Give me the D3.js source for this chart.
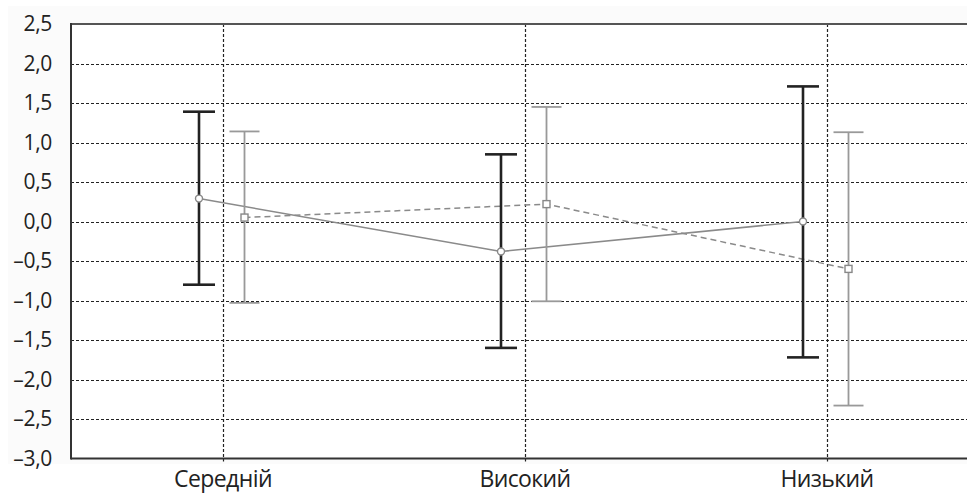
<!DOCTYPE html>
<html><head><meta charset="utf-8">
<script src="https://cdn.jsdelivr.net/npm/d3@7"></script>
<style>html,body{margin:0;padding:0;background:#fff;}svg{display:block;}</style>
</head><body>
<script>
const categories = ["Середній", "Високий", "Низький"];
const s1Mean = [0.29, -0.38, 0.0];
const s1Low = [-0.80, -1.60, -1.72];
const s1High = [1.39, 0.85, 1.71];
const s2Mean = [0.05, 0.22, -0.60];
const s2Low = [-1.03, -1.01, -2.33];
const s2High = [1.14, 1.45, 1.13];
const yTicks = [2.5, 2.0, 1.5, 1.0, 0.5, 0.0, -0.5, -1.0, -1.5, -2.0, -2.5, -3.0];

const W = 967, H = 494;
const L = 71, T = 24, B = 458.5, R = 967;
const svg = d3.select("body").append("svg").attr("width", W).attr("height", H);
svg.append("rect").attr("x",0).attr("y",0).attr("width",W).attr("height",H).attr("fill","#fff");
svg.append("rect").attr("x",8).attr("y",6).attr("width",W-8).attr("height",458).attr("fill","#fbfbfb");
svg.append("rect").attr("x",L).attr("y",T).attr("width",R-L).attr("height",B-T).attr("fill","#fff");

const y = d3.scaleLinear().domain([-3, 2.5]).range([B, T]);
const x = d3.scaleBand().domain(categories).range([72, 978]).paddingInner(0).paddingOuter(0);
const cx = c => x(c) + x.bandwidth()/2;
const off1 = -24, off2 = 21.5;

const fmt = v => (v < 0 ? "\u2013" : "") + Math.abs(v).toFixed(1).replace(".", ",");

// horizontal grid
const g = svg.append("g");
g.selectAll("line.h").data(yTicks.filter(v => v > -3 && v < 2.5)).enter().append("line")
  .attr("x1", L).attr("x2", R).attr("y1", d => Math.round(y(d))+0.5).attr("y2", d => Math.round(y(d))+0.5)
  .attr("stroke", "#222").attr("stroke-width", 1.2).attr("stroke-dasharray", "3,2");
// vertical grid
g.selectAll("line.v").data(categories).enter().append("line")
  .attr("x1", d => Math.round(cx(d))+0.5).attr("x2", d => Math.round(cx(d))+0.5)
  .attr("y1", T).attr("y2", B+3)
  .attr("stroke", "#222").attr("stroke-width", 1.2).attr("stroke-dasharray", "3,2");

// axis frame
svg.append("line").attr("x1", L).attr("x2", R).attr("y1", T).attr("y2", T).attr("stroke", "#555").attr("stroke-width", 2);
svg.append("line").attr("x1", L).attr("x2", R).attr("y1", B).attr("y2", B).attr("stroke", "#333").attr("stroke-width", 2);
svg.append("line").attr("x1", L).attr("x2", L).attr("y1", T-1).attr("y2", B+1).attr("stroke", "#333").attr("stroke-width", 2);

// y axis labels
const yAxis = d3.axisLeft(y).tickValues(yTicks).tickFormat(fmt).tickSize(0).tickPadding(19);
const ya = svg.append("g").attr("transform", `translate(${L},0)`).call(yAxis);
ya.select(".domain").remove();
ya.selectAll("text").attr("font-family", "'Open Sans', sans-serif").attr("font-size", 21).attr("fill", "#222")
  .attr("letter-spacing", -0.3);

// x axis labels
const xAxis = d3.axisBottom(x).tickSize(0).tickPadding(12);
const xa = svg.append("g").attr("transform", `translate(0,${B})`).call(xAxis);
xa.select(".domain").remove();
xa.selectAll("text").attr("font-family", "'Open Sans', sans-serif").attr("font-size", 23).attr("fill", "#222")
  .attr("letter-spacing", -0.6);

// lines
const line1 = d3.line().x((d,i) => cx(categories[i]) + off1).y(d => y(d));
const line2 = d3.line().x((d,i) => cx(categories[i]) + off2).y(d => y(d));
svg.append("path").attr("d", line1(s1Mean)).attr("fill","none").attr("stroke","#8a8a8a").attr("stroke-width",1.5);
svg.append("path").attr("d", line2(s2Mean)).attr("fill","none").attr("stroke","#8a8a8a").attr("stroke-width",1.5).attr("stroke-dasharray","6,4");

// error bars
function bars(lo, hi, off, color, sw, cap) {
  const gg = svg.append("g");
  categories.forEach((c, i) => {
    const xc = cx(c) + off;
    gg.append("line").attr("x1", xc).attr("x2", xc).attr("y1", y(lo[i])).attr("y2", y(hi[i])).attr("stroke", color).attr("stroke-width", sw);
    [lo[i], hi[i]].forEach(v => {
      gg.append("line").attr("x1", xc-cap/2).attr("x2", xc+cap/2).attr("y1", y(v)).attr("y2", y(v)).attr("stroke", color).attr("stroke-width", sw);
    });
  });
}
bars(s1Low, s1High, off1, "#222", 2.6, 32);
bars(s2Low, s2High, off2, "#999", 1.8, 30);

// markers
s1Mean.forEach((v,i) => {
  svg.append("circle").attr("cx", cx(categories[i])+off1).attr("cy", y(v)).attr("r", 3.5)
    .attr("fill","#fff").attr("stroke","#888").attr("stroke-width",1.4);
});
s2Mean.forEach((v,i) => {
  svg.append("rect").attr("x", cx(categories[i])+off2-3.5).attr("y", y(v)-3.5).attr("width",7).attr("height",7)
    .attr("fill","#fff").attr("stroke","#888").attr("stroke-width",1.4);
});
</script>
</body></html>
